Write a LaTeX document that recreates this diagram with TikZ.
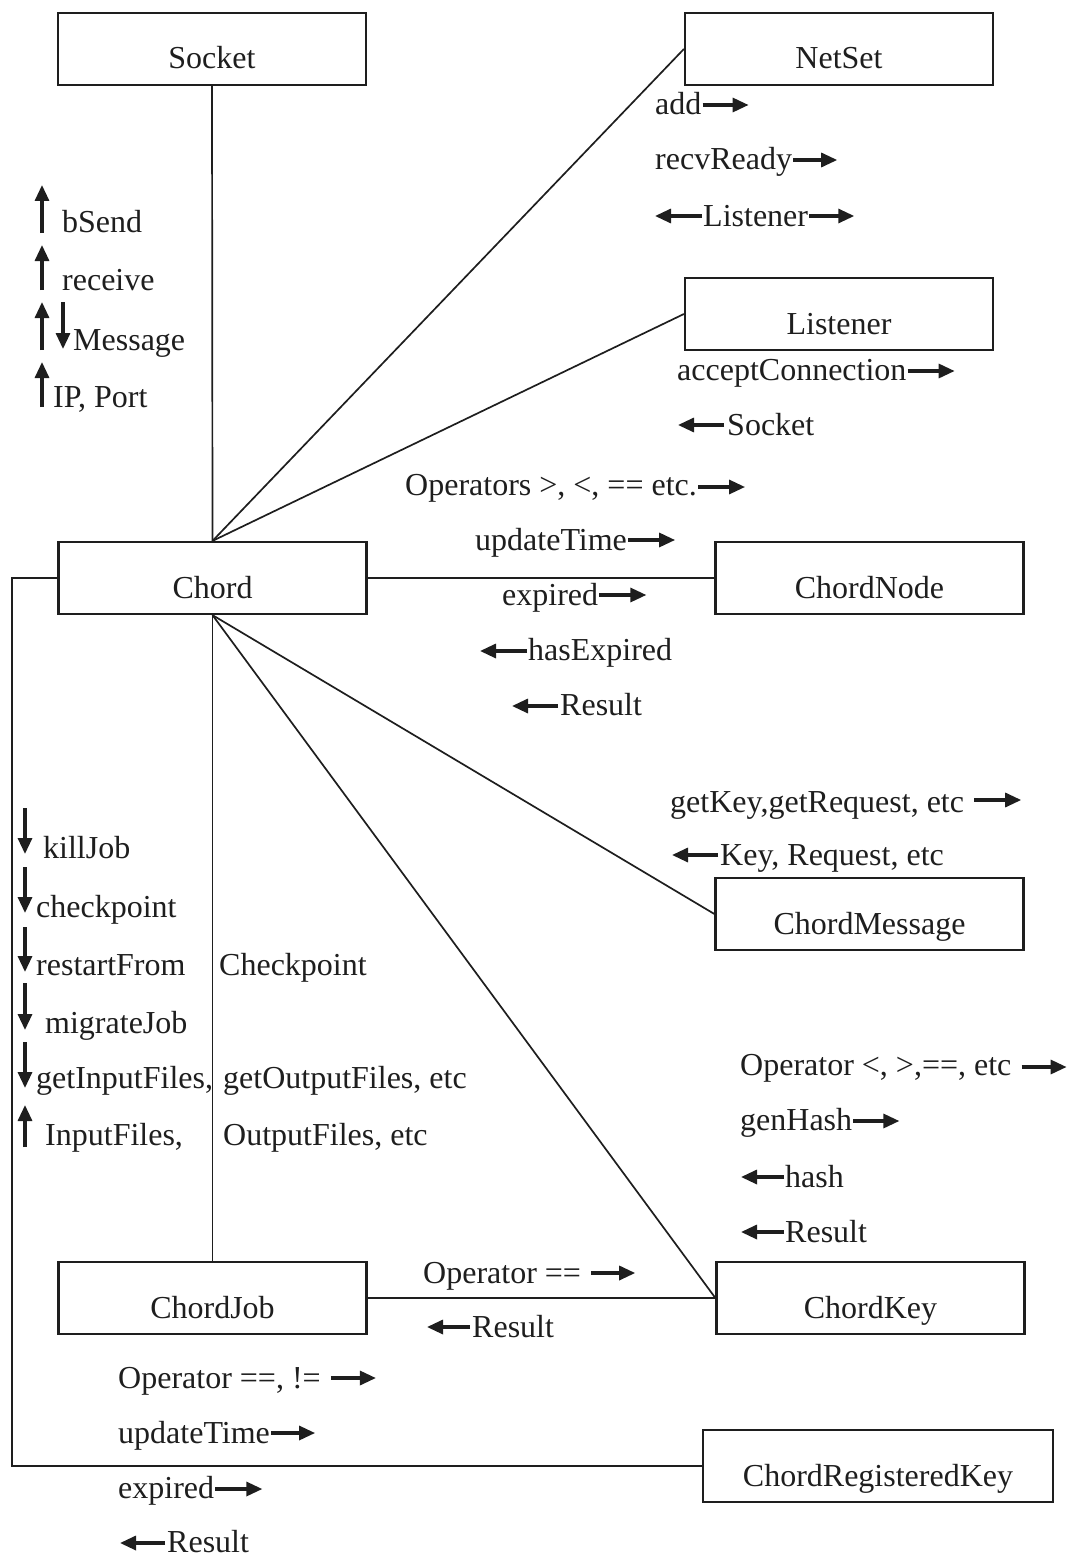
\documentclass[tikz,border=0pt]{standalone}
\usepackage{fontspec}
\setmainfont{Liberation Serif}
\usetikzlibrary{arrows.meta,calc}
\definecolor{ink}{RGB}{30,30,30}
\tikzset{
  box/.style={draw=ink, line width=2.2pt, minimum width=308pt, minimum height=72pt,
    text height=40pt, text depth=0pt, inner sep=0pt, text=ink},
  lbl/.style={anchor=base west, inner sep=0pt, text=ink},
  wire/.style={draw=ink, line width=1.7pt},
  ann/.style={draw=ink, line width=3.2pt, -{Triangle[length=16pt,width=14pt]}}
}
\begin{document}
\begin{tikzpicture}[x=1pt, y=-1pt, font=\fontsize{32}{36}\selectfont]
\useasboundingbox (0,0) rectangle (1067,1557);

% classes
\node[box] (socket)    at (212,49)    {Socket};
\node[box] (netset)    at (839,49)    {NetSet};
\node[box] (listener)  at (839,314)   {Listener};
\node[box] (chord)     at (212.5,578) {Chord};
\node[box] (chordnode) at (869.5,578) {ChordNode};
\node[box] (chordmsg)  at (869.5,914) {ChordMessage};
\node[box] (chordjob)  at (212.5,1298) {ChordJob};
\node[box] (chordkey)  at (870.5,1298) {ChordKey};
\node[box, minimum width=350pt] (regkey) at (878,1466) {ChordRegisteredKey};

% associations
\draw[wire] (socket.south) -- (chord.north);
\draw[wire] (chord.north) -- (netset.west);
\draw[wire] (chord.north) -- (listener.west);
\draw[wire] (chord.east) -- (chordnode.west);
\draw[wire] (chord.south) -- (chordmsg.west);
\draw[wire] (chord.south) -- (chordkey.west);
\draw[wire] (chord.south) -- (chordjob.north);
\draw[wire] (chordjob.east) -- (chordkey.west);
\coordinate (bend) at (12,578);
\draw[wire] (chord.west) -- (bend) |- (regkey.west);

% Chord -- Socket
\node[lbl] (bsend)   at (62,233)  {bSend};
\node[lbl] (receive) at (62,290)  {receive};
\node[lbl] (message) at (73,350)  {Message};
\node[lbl] (ipport)  at (53,407)  {IP, Port};
\draw[ann] (42,233) -- (42,185);
\draw[ann] (42,290) -- (42,245);
\draw[ann] (42,350) -- (42,302);
\draw[ann] (63,302) -- (63,349);
\draw[ann] (42,407) -- (42,362);

% Chord -- NetSet
\node[lbl] (add)  at (655,115) {add};
\draw[ann] ($(add.base east)+(1,-10)$) -- ++(46,0);
\node[lbl] (recv) at (655,170) {recvReady};
\draw[ann] ($(recv.base east)+(1,-10)$) -- ++(44,0);
\node[lbl] (lstn) at (703,226) {Listener};
\draw[ann] ($(lstn.base west)+(-1,-10)$) -- ++(-47,0);
\draw[ann] ($(lstn.base east)+(1,-10)$) -- ++(45,0);

% Chord -- Listener
\node[lbl] (accept) at (677,380) {acceptConnection};
\draw[ann] ($(accept.base east)+(1,-9)$) -- ++(47,0);
\node[lbl] (sockret) at (727,435) {Socket};
\draw[ann] ($(sockret.base west)+(-3,-10)$) -- ++(-46,0);

% Chord -- ChordNode
\node[lbl] (ops)   at (405,495) {Operators >, <, == etc.};
\draw[ann] ($(ops.base east)+(1,-8)$) -- ++(47,0);
\node[lbl] (upd)   at (475,550) {updateTime};
\draw[ann] ($(upd.base east)+(1,-10)$) -- ++(47,0);
\node[lbl] (exp)   at (502,605) {expired};
\draw[ann] ($(exp.base east)+(1,-10)$) -- ++(47,0);
\node[lbl] (hasexp) at (528,660) {hasExpired};
\draw[ann] ($(hasexp.base west)+(-1,-9)$) -- ++(-47,0);
\node[lbl] (res1)  at (560,715) {Result};
\draw[ann] ($(res1.base west)+(-2,-9)$) -- ++(-46,0);

% Chord -- ChordMessage
\node[lbl] (getkey) at (670,812) {getKey,getRequest, etc};
\draw[ann] ($(getkey.base east)+(10,-12)$) -- ++(47,0);
\node[lbl] (keyreq) at (720,865) {Key, Request, etc};
\draw[ann] ($(keyreq.base west)+(-2,-10)$) -- ++(-46,0);

% Chord -- ChordJob
\node[lbl] (kill)    at (43,858)  {killJob};
\node[lbl] (ckpt)    at (36,917)  {checkpoint};
\node[lbl] (restart) at (36,975)  {restartFrom};
\node[lbl] (restart2) at (219,975) {Checkpoint};
\node[lbl] (migrate) at (45,1033) {migrateJob};
\node[lbl] (getin)   at (36,1088) {getInputFiles,};
\node[lbl] (getout)  at (223,1088) {getOutputFiles, etc};
\node[lbl] (infiles) at (45,1145) {InputFiles,};
\node[lbl] (outfiles) at (223,1145) {OutputFiles, etc};
\draw[ann] (25,808)  -- (25,854);
\draw[ann] (25,867)  -- (25,913);
\draw[ann] (25,927)  -- (25,972);
\draw[ann] (25,983)  -- (25,1030);
\draw[ann] (25,1042) -- (25,1088);
\draw[ann] (25,1147) -- (25,1105);

% Chord -- ChordKey
\node[lbl] (opkey) at (740,1075) {Operator <, >,==, etc};
\draw[ann] ($(opkey.base east)+(10,-8)$) -- ++(45,0);
\node[lbl] (gen)   at (740,1130) {genHash};
\draw[ann] ($(gen.base east)+(1,-9)$) -- ++(46,0);
\node[lbl] (hash)  at (785,1187) {hash};
\draw[ann] ($(hash.base west)+(-1,-10)$) -- ++(-43,0);
\node[lbl] (res2)  at (785,1242) {Result};
\draw[ann] ($(res2.base west)+(-1,-10)$) -- ++(-43,0);

% ChordJob -- ChordKey
\node[lbl] (opeq) at (423,1283) {Operator ==};
\draw[ann] ($(opeq.base east)+(10,-10)$) -- ++(44,0);
\node[lbl] (res3) at (472,1337) {Result};
\draw[ann] ($(res3.base west)+(-2,-10)$) -- ++(-43,0);

% Chord -- ChordRegisteredKey
\node[lbl] (opne)  at (118,1388) {Operator ==, !=};
\draw[ann] ($(opne.base east)+(10,-10)$) -- ++(45,0);
\node[lbl] (upd2)  at (118,1443) {updateTime};
\draw[ann] ($(upd2.base east)+(1,-10)$) -- ++(44,0);
\node[lbl] (exp2)  at (118,1498) {expired};
\draw[ann] ($(exp2.base east)+(1,-9)$) -- ++(47,0);
\node[lbl] (res4)  at (167,1552) {Result};
\draw[ann] ($(res4.base west)+(-2,-9)$) -- ++(-45,0);
\end{tikzpicture}
\end{document}
